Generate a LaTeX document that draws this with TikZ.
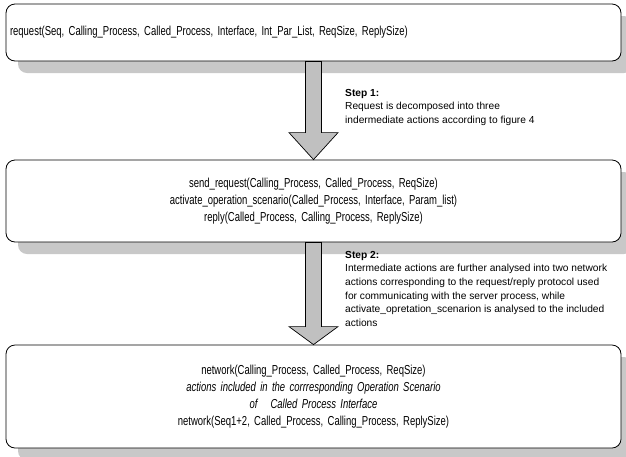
\documentclass[tikz,border=0pt]{standalone}
\usepackage{fontspec}
\setmainfont{Liberation Sans}
\newfontfamily\boxfont[FakeStretch=0.73]{Liberation Sans}
\usetikzlibrary{calc,shadows}
\definecolor{shadowgray}{RGB}{200,200,200}
\definecolor{arrowgray}{RGB}{192,192,192}
\begin{document}
\begin{tikzpicture}[x=1pt,y=-1pt,
  actionbox/.style={draw=black, line width=0.8pt, rounded corners=9pt, fill=white,
    text width=607pt, inner xsep=4pt, inner ysep=0pt,
    drop shadow={fill=shadowgray, opacity=1, shadow xshift=12pt, shadow yshift=-12pt},
    font=\boxfont\fontsize{13}{17}\selectfont},
  steplabel/.style={anchor=north west, align=left, inner sep=0pt,
    font=\fontsize{10.2}{13.6}\selectfont},
  blockarrow/.style={draw=black, line width=0.7pt, fill=arrowgray, line join=miter}]
  \clip (0,0) rectangle (626,456);

  % the three action boxes
  \node[actionbox, align=left, minimum height=57pt] (req) at (313.5,32.5)
    {request(Seq, Calling\_Process, Called\_Process, Interface, Int\_Par\_List, ReqSize, ReplySize)};
  \node[actionbox, align=center, minimum height=82pt] (mid) at (313.5,201)
    {send\_request(Calling\_Process, Called\_Process, ReqSize)\\
     activate\_operation\_scenario(Called\_Process, Interface, Param\_list)\\
     reply(Called\_Process, Calling\_Process, ReplySize)};
  \node[actionbox, align=center, minimum height=103pt] (net) at (313.5,396.5)
    {network(Calling\_Process, Called\_Process, ReqSize)\\
     \textit{actions included in the corrresponding Operation Scenario}\\
     \textit{of\ \ \ Called Process Interface}\\
     network(Seq1+2, Called\_Process, Calling\_Process, ReplySize)};

  % block arrows between the boxes
  \draw[blockarrow] ($(req.south)+(-8,0)$) -- ($(mid.north)+(-8,-27)$)
    -- ($(mid.north)+(-24.5,-27)$) -- (mid.north) -- ($(mid.north)+(24.5,-27)$)
    -- ($(mid.north)+(8,-27)$) -- ($(req.south)+(8,0)$) -- cycle;
  \draw[blockarrow] ($(mid.south)+(-8,0)$) -- ($(net.north)+(-8,-18)$)
    -- ($(net.north)+(-24.5,-18)$) -- (net.north) -- ($(net.north)+(24.5,-18)$)
    -- ($(net.north)+(8,-18)$) -- ($(mid.south)+(8,0)$) -- cycle;

  % step descriptions
  \node[steplabel] (step1) at (345,89)
    {\textbf{Step 1:}\\
     Request is decomposed into three\\
     indermediate actions according to figure 4};
  \node[steplabel] (step2) at (345,251)
    {\textbf{Step 2:}\\
     Intermediate actions are further analysed into two network\\
     actions corresponding to the request/reply protocol used\\
     for communicating with the server process, while\\
     activate\_opretation\_scenarion is analysed to the included\\
     actions};
\end{tikzpicture}
\end{document}
